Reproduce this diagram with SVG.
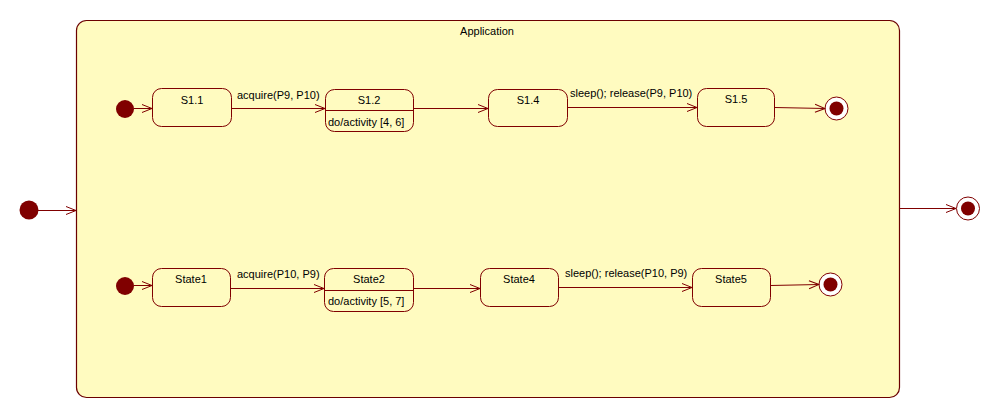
<svg xmlns="http://www.w3.org/2000/svg" width="1001" height="419" viewBox="0 0 1001 419">
  <style>
    .state { fill: #fffbc0; stroke: #800000; stroke-width: 1; }
    .comp { fill: #fffbc0; stroke: #6b0000; stroke-width: 1.2; }
    .init { fill: #800000; stroke: none; }
    .finalRing { fill: #ffffff; stroke: #800000; stroke-width: 1; }
    .finalDot { fill: #800000; }
    .edge { fill: none; stroke: #800000; stroke-width: 1; }
    .sep { stroke: #800000; stroke-width: 1; }
    text { font-family: "Liberation Sans", Arial, sans-serif; font-size: 11px; fill: #000000; }
    .c { text-anchor: middle; }
  </style>
  <defs>
    <marker id="open" markerWidth="12" markerHeight="10" refX="11" refY="5" orient="auto" markerUnits="userSpaceOnUse">
      <path d="M1,1 L11,5 L1,9" fill="none" stroke="#800000" stroke-width="1"/>
    </marker>
  </defs>
  <rect width="1001" height="419" fill="#ffffff"/>

  <!-- composite state -->
  <g id="application">
    <rect class="comp" x="76.5" y="20.5" width="823" height="377" rx="10" ry="10"/>
    <text class="c" x="487" y="35">Application</text>
  </g>

  <!-- outer pseudo-states -->
  <g id="outer-initial"><circle class="init" cx="29" cy="210" r="9.5"/></g>
  <g id="outer-final">
    <circle class="finalRing" cx="968" cy="208.5" r="11.5"/>
    <circle class="finalDot" cx="968" cy="208.5" r="7"/>
  </g>

  <!-- upper region -->
  <g id="init-1"><circle class="init" cx="125" cy="109" r="9"/></g>
  <g id="s1-1">
    <rect class="state" x="152.5" y="88.5" width="79" height="38" rx="9" ry="9"/>
    <text class="c" x="192" y="104">S1.1</text>
  </g>
  <g id="s1-2">
    <rect class="state" x="325.5" y="89.5" width="88" height="42" rx="9" ry="9"/>
    <line class="sep" x1="325.5" y1="110.5" x2="413.5" y2="110.5"/>
    <text class="c" x="369" y="104">S1.2</text>
    <text x="328" y="126">do/activity [4, 6]</text>
  </g>
  <g id="s1-4">
    <rect class="state" x="488.5" y="89.5" width="79" height="37" rx="9" ry="9"/>
    <text class="c" x="528" y="104">S1.4</text>
  </g>
  <g id="s1-5">
    <rect class="state" x="697.5" y="88.5" width="77" height="38" rx="9" ry="9"/>
    <text class="c" x="736" y="103">S1.5</text>
  </g>
  <g id="final-1">
    <circle class="finalRing" cx="836.5" cy="108.5" r="11.5"/>
    <circle class="finalDot" cx="836.5" cy="108.5" r="7"/>
  </g>

  <!-- lower region -->
  <g id="init-2"><circle class="init" cx="125" cy="286" r="9"/></g>
  <g id="state1">
    <rect class="state" x="152.5" y="268.5" width="78" height="38" rx="9" ry="9"/>
    <text class="c" x="191" y="283">State1</text>
  </g>
  <g id="state2">
    <rect class="state" x="324.5" y="268.5" width="89" height="43" rx="9" ry="9"/>
    <line class="sep" x1="324.5" y1="290.5" x2="413.5" y2="290.5"/>
    <text class="c" x="369" y="283">State2</text>
    <text x="328" y="305">do/activity [5, 7]</text>
  </g>
  <g id="state4">
    <rect class="state" x="480.5" y="268.5" width="78" height="38" rx="9" ry="9"/>
    <text class="c" x="519" y="283">State4</text>
  </g>
  <g id="state5">
    <rect class="state" x="692.5" y="268.5" width="78" height="38" rx="9" ry="9"/>
    <text class="c" x="731" y="283">State5</text>
  </g>
  <g id="final-2">
    <circle class="finalRing" cx="830.5" cy="284.5" r="11.5"/>
    <circle class="finalDot" cx="830.5" cy="284.5" r="7"/>
  </g>

  <!-- transitions -->
  <g id="connectors">
    <line class="edge" x1="38" y1="210.5" x2="76" y2="210.5" marker-end="url(#open)"/>
    <line class="edge" x1="899.5" y1="208.5" x2="956" y2="208.5" marker-end="url(#open)"/>

    <line class="edge" x1="134" y1="108.5" x2="152" y2="108.5" marker-end="url(#open)"/>
    <line class="edge" x1="231.5" y1="108.5" x2="325" y2="108.5" marker-end="url(#open)"/>
    <line class="edge" x1="413.5" y1="108.5" x2="488" y2="108.5" marker-end="url(#open)"/>
    <line class="edge" x1="567.5" y1="107.5" x2="697" y2="107.5" marker-end="url(#open)"/>
    <line class="edge" x1="774.5" y1="107.5" x2="825" y2="108.5" marker-end="url(#open)"/>

    <line class="edge" x1="134" y1="285.5" x2="152" y2="285.5" marker-end="url(#open)"/>
    <line class="edge" x1="230.5" y1="288.5" x2="324" y2="288.5" marker-end="url(#open)"/>
    <line class="edge" x1="413.5" y1="288.5" x2="480" y2="288.5" marker-end="url(#open)"/>
    <line class="edge" x1="558.5" y1="287.5" x2="692" y2="287.5" marker-end="url(#open)"/>
    <line class="edge" x1="770.5" y1="285.5" x2="819" y2="284.5" marker-end="url(#open)"/>

    <text x="237" y="99">acquire(P9, P10)</text>
    <text x="570" y="97">sleep(); release(P9, P10)</text>
    <text x="237" y="278">acquire(P10, P9)</text>
    <text x="565" y="277">sleep(); release(P10, P9)</text>
  </g>
</svg>
